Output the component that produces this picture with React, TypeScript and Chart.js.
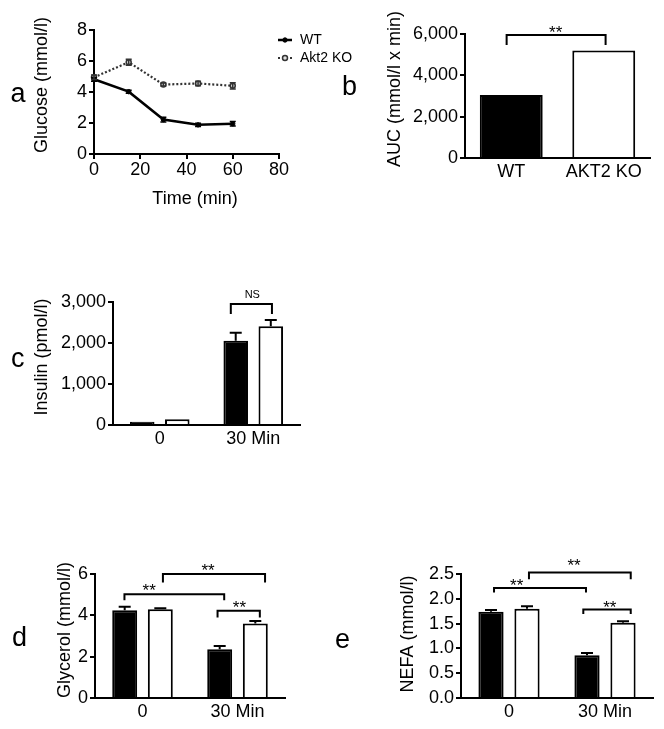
import React, { useEffect, useRef } from 'react';
import { Chart, registerables } from 'chart.js';

Chart.register(...registerables);

const FONT = "'Liberation Sans', Arial, Helvetica, sans-serif";
Chart.defaults.font.family = FONT;
Chart.defaults.color = '#000';

// ---------- Panel a: glucose time course ----------
const timeMin = [0, 15, 30, 45, 60];
const glucoseWT = [4.82, 4.02, 2.22, 1.88, 1.95];
const glucoseWTErr = [0.12, 0.1, 0.15, 0.1, 0.15];
const glucoseKO = [4.95, 5.92, 4.48, 4.55, 4.4];
const glucoseKOErr = [0.15, 0.2, 0.1, 0.15, 0.2];

// ---------- Panel b: AUC ----------
const aucGroups = ['WT', 'AKT2 KO'];
const aucValues = [3050, 5200];

// ---------- Panels c, d, e ----------
const timeGroups = ['0', '30 Min'];
const insulinWT = [80, 2055];
const insulinWTErr = [0, 195];
const insulinKO = [140, 2410];
const insulinKOErr = [0, 148];

const glycerolWT = [4.25, 2.36];
const glycerolWTErr = [0.17, 0.16];
const glycerolKO = [4.29, 3.61];
const glycerolKOErr = [0.05, 0.11];

const nefaWT = [1.74, 0.86];
const nefaWTErr = [0.035, 0.045];
const nefaKO = [1.8, 1.515];
const nefaKOErr = [0.05, 0.03];

// significance brackets (x in category units, y in data units)
const aucBrackets = [{ from: -0.05, to: 1.02, at: 5950, drop: 10, text: '**', tx: 0.48, dy: 3 }];
const insulinBrackets = [{ from: 0.76, to: 1.2, at: 2950, drop: 10, text: 'NS', tx: 0.99, dy: -6, small: true }];
const glycerolBrackets = [
  { from: -0.19, to: 0.86, at: 5.02, drop: 6, text: '**', tx: 0.07, dy: 1.8 },
  { from: 0.215, to: 1.29, at: 6.0, drop: 8.5, text: '**', tx: 0.69, dy: 1.8 },
  { from: 0.79, to: 1.235, at: 4.22, drop: 6.6, text: '**', tx: 1.02, dy: 2 },
];
const nefaBrackets = [
  { from: -0.156, to: 0.802, at: 2.216, drop: 4.5, text: '**', tx: 0.08, dy: 2.5 },
  { from: 0.208, to: 1.268, at: 2.53, drop: 6.7, text: '**', tx: 0.677, dy: -2 },
  { from: 0.774, to: 1.268, at: 1.786, drop: 4.5, text: '**', tx: 1.05, dy: 3.5 },
];

const extras = {
  id: 'extras',
  afterDatasetsDraw(chart: any, _args: any, opts: any) {
    const ctx = chart.ctx;
    const xs = chart.scales.x;
    const ys = chart.scales.y;
    ctx.save();
    // error bars
    chart.data.datasets.forEach((ds: any, di: number) => {
      if (!ds.errors) return;
      const meta = chart.getDatasetMeta(di);
      meta.data.forEach((el: any, i: number) => {
        const e = ds.errors[i];
        if (!e) return;
        const raw = ds.data[i];
        const v = typeof raw === 'number' ? raw : raw.y;
        const x = el.x;
        const yTop = ys.getPixelForValue(v + e);
        const yBot = ys.getPixelForValue(opts.errBoth ? v - e : v);
        const c = (opts.capWidth || 12) / 2;
        ctx.strokeStyle = ds.errColor || '#000';
        ctx.lineWidth = opts.errWidth || 2;
        ctx.setLineDash([]);
        ctx.beginPath();
        ctx.moveTo(x, yBot);
        ctx.lineTo(x, yTop);
        ctx.moveTo(x - c, yTop);
        ctx.lineTo(x + c, yTop);
        if (opts.errBoth) {
          ctx.moveTo(x - c, yBot);
          ctx.lineTo(x + c, yBot);
        }
        ctx.stroke();
      });
    });
    // brackets
    (opts.brackets || []).forEach((b: any) => {
      const x1 = xs.getPixelForValue(b.from);
      const x2 = xs.getPixelForValue(b.to);
      const y = ys.getPixelForValue(b.at);
      ctx.strokeStyle = '#000';
      ctx.lineWidth = 2;
      ctx.setLineDash([]);
      ctx.beginPath();
      ctx.moveTo(x1, y + b.drop);
      ctx.lineTo(x1, y);
      ctx.lineTo(x2, y);
      ctx.lineTo(x2, y + b.drop);
      ctx.stroke();
      ctx.fillStyle = '#000';
      ctx.font = (b.small ? '11px ' : '17px ') + FONT;
      ctx.textAlign = 'center';
      ctx.textBaseline = 'alphabetic';
      ctx.fillText(b.text, xs.getPixelForValue(b.tx), y + b.dy);
    });
    // legend
    (opts.legend || []).forEach((l: any) => {
      const ds = chart.data.datasets[l.ds];
      ctx.strokeStyle = ds.borderColor;
      ctx.lineWidth = ds.borderWidth;
      ctx.setLineDash(ds.borderDash || []);
      ctx.beginPath();
      ctx.moveTo(l.x0, l.y);
      ctx.lineTo(l.x1, l.y);
      ctx.stroke();
      ctx.setLineDash([]);
      ctx.beginPath();
      ctx.arc((l.x0 + l.x1) / 2, l.y, ds.pointRadius, 0, Math.PI * 2);
      ctx.fillStyle = ds.pointBackgroundColor;
      ctx.fill();
      ctx.lineWidth = ds.pointBorderWidth || 1;
      ctx.strokeStyle = ds.pointBorderColor || ds.borderColor;
      ctx.stroke();
      ctx.fillStyle = '#000';
      ctx.font = '14px ' + FONT;
      ctx.textAlign = 'left';
      ctx.textBaseline = 'middle';
      ctx.fillText(l.label, l.tx, l.y);
    });
    // free texts (titles, panel letters)
    (opts.texts || []).forEach((t: any) => {
      ctx.save();
      ctx.fillStyle = '#000';
      ctx.font = (t.size || 18) + 'px ' + FONT;
      ctx.translate(t.x, t.y);
      if (t.rot) ctx.rotate(t.rot);
      ctx.textAlign = t.align || 'center';
      ctx.textBaseline = t.baseline || 'middle';
      ctx.fillText(t.text, 0, 0);
      ctx.restore();
    });
    ctx.restore();
  },
};

const gridStyle = {
  display: true,
  drawOnChartArea: false,
  drawTicks: true,
  tickLength: 5,
  tickColor: '#000',
  tickWidth: 2,
  color: '#000',
  lineWidth: 2,
};
const borderStyle = { display: true, color: '#000', width: 2 };

function yAxis(min: number, max: number, step: number, width: number, fmt: (v: number) => string) {
  return {
    type: 'linear',
    min,
    max,
    ticks: { stepSize: step, color: '#000', font: { size: 18, family: FONT }, padding: 2, callback: (v: any) => fmt(Number(v)) },
    grid: gridStyle,
    border: borderStyle,
    afterFit: (s: any) => {
      s.width = width;
    },
  };
}

function xCategory(height: number) {
  return {
    type: 'category',
    offset: true,
    grid: { display: false, drawTicks: false, drawOnChartArea: false },
    border: borderStyle,
    ticks: { color: '#000', font: { size: 18, family: FONT }, padding: 3, maxRotation: 0, autoSkip: false },
    afterFit: (s: any) => {
      s.height = height;
    },
  };
}

const thousands = (v: number) => v.toLocaleString('en-US');

function configA() {
  return {
    type: 'line',
    data: {
      datasets: [
        {
          label: 'WT',
          data: timeMin.map((t, i) => ({ x: t, y: glucoseWT[i] })),
          errors: glucoseWTErr,
          errColor: '#000',
          borderColor: '#000',
          borderWidth: 2.5,
          pointRadius: 2.2,
          pointBackgroundColor: '#000',
          pointBorderColor: '#000',
          pointBorderWidth: 1,
          tension: 0,
          clip: false,
        },
        {
          label: 'Akt2 KO',
          data: timeMin.map((t, i) => ({ x: t, y: glucoseKO[i] })),
          errors: glucoseKOErr,
          errColor: '#333',
          borderColor: '#333',
          borderWidth: 2.2,
          borderDash: [2, 2],
          pointRadius: 2.5,
          pointBackgroundColor: '#ddd',
          pointBorderColor: '#333',
          pointBorderWidth: 1.5,
          tension: 0,
          clip: false,
        },
      ],
    },
    options: {
      responsive: false,
      animation: false,
      layout: { padding: { left: 0, top: 30, right: 91, bottom: 0 } },
      plugins: {
        legend: { display: false },
        tooltip: { enabled: false },
        extras: {
          errBoth: true,
          capWidth: 6,
          errWidth: 1.5,
          legend: [
            { ds: 0, label: 'WT', x0: 278, x1: 292, y: 40, tx: 300 },
            { ds: 1, label: 'Akt2 KO', x0: 278, x1: 292, y: 58, tx: 300 },
          ],
          texts: [
            { text: 'a', x: 10.5, y: 102, size: 27, align: 'left', baseline: 'alphabetic' },
            { text: 'Glucose (mmol/l)', x: 42, y: 85, rot: -Math.PI / 2 },
            { text: 'Time (min)', x: 195, y: 199 },
          ],
        },
      },
      scales: {
        x: {
          type: 'linear',
          min: 0,
          max: 80,
          ticks: { stepSize: 20, color: '#000', font: { size: 18, family: FONT }, padding: 0 },
          grid: gridStyle,
          border: borderStyle,
          afterFit: (s: any) => {
            s.height = 61;
          },
        },
        y: yAxis(0, 8, 2, 94, (v) => String(v)),
      },
    },
    plugins: [extras],
  };
}

function configB() {
  return {
    type: 'bar',
    data: {
      labels: aucGroups,
      datasets: [
        {
          label: 'AUC',
          data: aucValues,
          backgroundColor: ['#000', '#fff'],
          borderColor: '#000',
          borderWidth: 2,
          categoryPercentage: 0.85,
          barPercentage: 0.8,
        },
      ],
    },
    options: {
      responsive: false,
      animation: false,
      layout: { padding: { left: 0, top: 34, right: 14, bottom: 0 } },
      plugins: {
        legend: { display: false },
        tooltip: { enabled: false },
        extras: {
          brackets: aucBrackets,
          texts: [
            { text: 'b', x: 2, y: 95, size: 27, align: 'left', baseline: 'alphabetic' },
            { text: 'AUC (mmol/l x min)', x: 55, y: 89, rot: -Math.PI / 2 },
          ],
        },
      },
      scales: {
        x: xCategory(42),
        y: yAxis(0, 6000, 2000, 125, thousands),
      },
    },
    plugins: [extras],
  };
}

function groupedConfig(
  wt: number[], wtErr: number[], ko: number[], koErr: number[],
  yMin: number, yMax: number, step: number, yWidth: number, fmt: (v: number) => string,
  padding: any, xHeight: number, brackets: any[], texts: any[],
) {
  const common = { borderColor: '#000', borderWidth: 2, categoryPercentage: 0.75, barPercentage: 0.7 };
  return {
    type: 'bar',
    data: {
      labels: timeGroups,
      datasets: [
        { label: 'WT', data: wt, errors: wtErr, backgroundColor: '#000', ...common },
        { label: 'AKT2 KO', data: ko, errors: koErr, backgroundColor: '#fff', ...common },
      ],
    },
    options: {
      responsive: false,
      animation: false,
      layout: { padding },
      plugins: {
        legend: { display: false },
        tooltip: { enabled: false },
        extras: { capWidth: 12, errWidth: 2, brackets, texts },
      },
      scales: {
        x: xCategory(xHeight),
        y: yAxis(yMin, yMax, step, yWidth, fmt),
      },
    },
    plugins: [extras],
  };
}

function configC() {
  return groupedConfig(
    insulinWT, insulinWTErr, insulinKO, insulinKOErr,
    0, 3000, 1000, 113, thousands,
    { left: 0, top: 42, right: 30, bottom: 0 }, 35, insulinBrackets,
    [
      { text: 'c', x: 11, y: 107, size: 27, align: 'left', baseline: 'alphabetic' },
      { text: 'Insulin (pmol/l)', x: 42, y: 97, rot: -Math.PI / 2 },
    ],
  );
}

function configD() {
  return groupedConfig(
    glycerolWT, glycerolWTErr, glycerolKO, glycerolKOErr,
    0, 6, 2, 95, (v) => String(v),
    { left: 0, top: 34, right: 45, bottom: 0 }, 31, glycerolBrackets,
    [
      { text: 'd', x: 12, y: 106, size: 27, align: 'left', baseline: 'alphabetic' },
      { text: 'Glycerol (mmol/l)', x: 65, y: 90, rot: -Math.PI / 2 },
    ],
  );
}

function configE() {
  return groupedConfig(
    nefaWT, nefaWTErr, nefaKO, nefaKOErr,
    0, 2.5, 0.5, 131, (v) => v.toFixed(1),
    { left: 0, top: 34, right: 11, bottom: 0 }, 31, nefaBrackets,
    [
      { text: 'e', x: 5, y: 108, size: 27, align: 'left', baseline: 'alphabetic' },
      { text: 'NEFA (mmol/l)', x: 78, y: 94, rot: -Math.PI / 2 },
    ],
  );
}

function Panel({ left, top, width, height, make }: { left: number; top: number; width: number; height: number; make: () => any }) {
  const ref = useRef<HTMLCanvasElement>(null);
  useEffect(() => {
    const chart = new Chart(ref.current as HTMLCanvasElement, make());
    return () => chart.destroy();
  }, []);
  return (
    <canvas
      ref={ref}
      width={width}
      height={height}
      style={{ position: 'absolute', left, top, width, height }}
    />
  );
}

export default function App() {
  return (
    <div style={{ position: 'absolute', left: 0, top: 0, width: 664, height: 729, background: '#fff', overflow: 'hidden' }}>
      <Panel left={0} top={0} width={370} height={215} make={configA} />
      <Panel left={340} top={0} width={324} height={200} make={configB} />
      <Panel left={0} top={260} width={330} height={200} make={configC} />
      <Panel left={0} top={540} width={330} height={189} make={configD} />
      <Panel left={330} top={540} width={334} height={189} make={configE} />
    </div>
  );
}
